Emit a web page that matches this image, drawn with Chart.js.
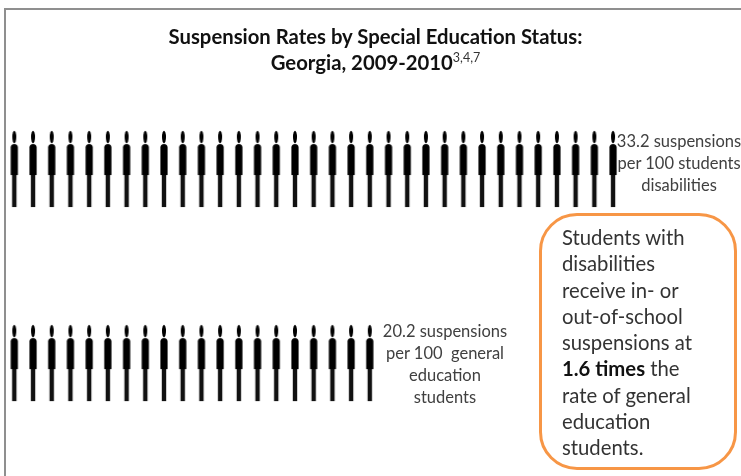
<!DOCTYPE html>
<html>
<head>
<meta charset="utf-8">
<script src="https://cdn.jsdelivr.net/npm/chart.js@4"></script>
<style>
  html, body { margin: 0; padding: 0; background: #fff; }
  #wrap { position: relative; width: 741px; height: 476px; overflow: hidden; font-family: Lato, "Open Sans", sans-serif; }
  #wrap canvas { position: absolute; left: 0; top: 0; }
  .frameTop { position: absolute; left: 4px; top: 8px; right: 0; height: 2px; background: #8f8f8f; }
  .frameLeft { position: absolute; left: 4px; top: 8px; bottom: 0; width: 2px; background: #8f8f8f; }
  .title { position: absolute; left: 0; width: 751px; top: 23px; text-align: center; font-weight: bold; font-size: 20.3px; line-height: 26px; color: #111; }
  .title sup { font-size: 12.5px; font-weight: normal; line-height: 0; color: #333; }
  .note { position: absolute; text-align: center; font-size: 16.5px; line-height: 22px; color: #404040; white-space: pre; }
  .callout { position: absolute; left: 539px; top: 213px; width: 198px; height: 257px; box-sizing: border-box; border: 3px solid #f79646; border-radius: 38px; background: #fff; padding: 8px 0 0 20px; font-size: 20.3px; line-height: 26.3px; color: #333; white-space: pre; }
  .callout b { color: #111; }
</style>
</head>
<body>
<div id="wrap">
  <canvas id="chart" width="741" height="476"></canvas>
  <div class="frameTop"></div>
  <div class="frameLeft"></div>
  <div class="title">Suspension Rates by Special Education Status:<br>Georgia, 2009-2010<sup>3,4,7</sup></div>
  <div class="note" style="left:609px;width:140px;top:130px" id="noteTop"></div>
  <div class="note" style="left:375px;width:140px;top:320px" id="noteBottom"></div>
  <div class="callout">Students with
disabilities
receive in- or
out-of-school
suspensions at
<b>1.6 times</b> the
rate of general
education
students.</div>
</div>
<script>
const groups = ['Students with disabilities', 'General education students'];
const rates = [33.2, 20.2];
// one figure for each whole suspension per 100 students
const figureCounts = [33, 20];
const rows = [1, 2];
const noteLines = [
  ['33.2 suspensions', 'per 100 students', 'disabilities'],
  ['20.2 suspensions', 'per 100  general', 'education', 'students'],
];

document.getElementById('noteTop').textContent = noteLines[0].join('\n');
document.getElementById('noteBottom').textContent = noteLines[1].join('\n');

const makeFigure = () => {
  const c = document.createElement('canvas');
  c.width = 14;
  c.height = 80;
  const g = c.getContext('2d');
  g.filter = 'blur(0.6px)';
  g.fillStyle = '#000';
  // head
  g.beginPath();
  g.ellipse(7, 8, 2, 6.2, 0, 0, Math.PI * 2);
  g.fill();
  // legs
  g.fillStyle = '#111';
  g.fillRect(4.8, 44, 4.4, 34);
  // body
  g.fillStyle = '#000';
  g.beginPath();
  g.roundRect(3.4, 15, 7.2, 31, [3.6, 3.6, 0.5, 0.5]);
  g.fill();
  return c;
};

const figure = makeFigure();

const rowPoints = (count, row) => {
  const pts = [];
  for (let i = 1; i <= count; i++) pts.push({ x: i, y: row });
  return pts;
};

new Chart(document.getElementById('chart'), {
  type: 'scatter',
  data: {
    datasets: groups.map((name, i) => ({
      label: name + ' (' + rates[i] + ')',
      data: rowPoints(figureCounts[i], rows[i]),
      pointStyle: figure,
      pointRadius: 6,
      pointHoverRadius: 6,
    })),
  },
  options: {
    responsive: false,
    animation: false,
    layout: { padding: 0, autoPadding: false },
    plugins: { legend: { display: false }, tooltip: { enabled: false }, title: { display: false } },
    scales: {
      x: { type: 'linear', min: 0.2353, max: 39.84, display: false },
      y: { type: 'linear', reverse: true, min: 0.129, max: 2.582, display: false },
    },
  },
});
</script>
</body>
</html>
